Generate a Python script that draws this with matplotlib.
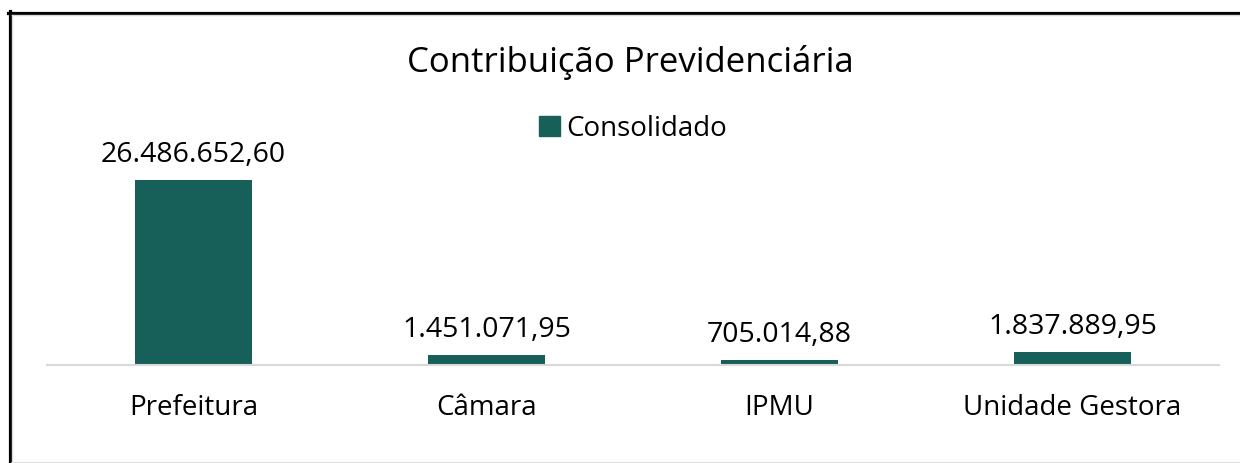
import matplotlib
matplotlib.use("Agg")
from matplotlib import pyplot as plt
from matplotlib.lines import Line2D
from matplotlib.patches import Patch

categories = ["Prefeitura", "Câmara", "IPMU", "Unidade Gestora"]
values = [26486652.60, 1451071.95, 705014.88, 1837889.95]
series_name = "Consolidado"
title = "Contribuição Previdenciária"

bar_color = "#17605A"
plt.rcParams['font.family'] = ['Open Sans', 'DejaVu Sans']


def fmt_br(v):
    s = f"{v:,.2f}"
    return s.replace(",", "X").replace(".", ",").replace("X", ".")


W, H = 1240, 463
fig = plt.figure(figsize=(W / 100, H / 100), dpi=100)

# plot area: baseline at y=365 px, x from 47 to 1219 px
ax = fig.add_axes([47 / W, (H - 365) / H, (1219 - 47) / W, (365 - 156) / H])
x = range(len(categories))
bars = ax.bar(x, values, width=0.4, color=bar_color, zorder=2)
ax.set_xlim(-0.5, len(categories) - 0.5)
ax.set_ylim(0, 30000000)

for b, v in zip(bars, values):
    ax.annotate(fmt_br(v), (b.get_x() + b.get_width() / 2, v),
                xytext=(0, 8), textcoords="offset points",
                ha="center", va="bottom", fontsize=20.5)

ax.set_xticks(list(x))
ax.set_xticklabels(categories, fontsize=20)
ax.tick_params(axis="x", length=0, pad=21)
ax.set_yticks([])
for side in ["top", "left", "right"]:
    ax.spines[side].set_visible(False)
ax.spines["bottom"].set_color("#D9D9D9")
ax.spines["bottom"].set_linewidth(1.5)

fig.text(630 / W, 1 - 62 / H, title, ha="center", va="center", fontsize=25)
fig.legend(handles=[Patch(color=bar_color, label=series_name)],
           loc="center", bbox_to_anchor=(633 / W, 1 - 129 / H), frameon=False,
           fontsize=20, handlelength=0.75, handleheight=0.75, handletextpad=0.25)

# chart frame: black left and top edges, light gray inner line
fig.add_artist(Line2D([9.5 / W, 9.5 / W], [0, 1 - 11 / H], color="black", lw=2.3))
fig.add_artist(Line2D([8 / W, 1], [1 - 12.5 / H, 1 - 12.5 / H], color="black", lw=2.3))
fig.add_artist(Line2D([12 / W, 1], [1 - 15 / H, 1 - 15 / H], color="#D9D9D9", lw=1))
fig.add_artist(Line2D([12 / W, 12 / W], [0, 1 - 15 / H], color="#D9D9D9", lw=1))
fig.add_artist(Line2D([12 / W, 1], [0.5 / H, 0.5 / H], color="#D9D9D9", lw=1.2))

fig.savefig("out.png", dpi=100)
